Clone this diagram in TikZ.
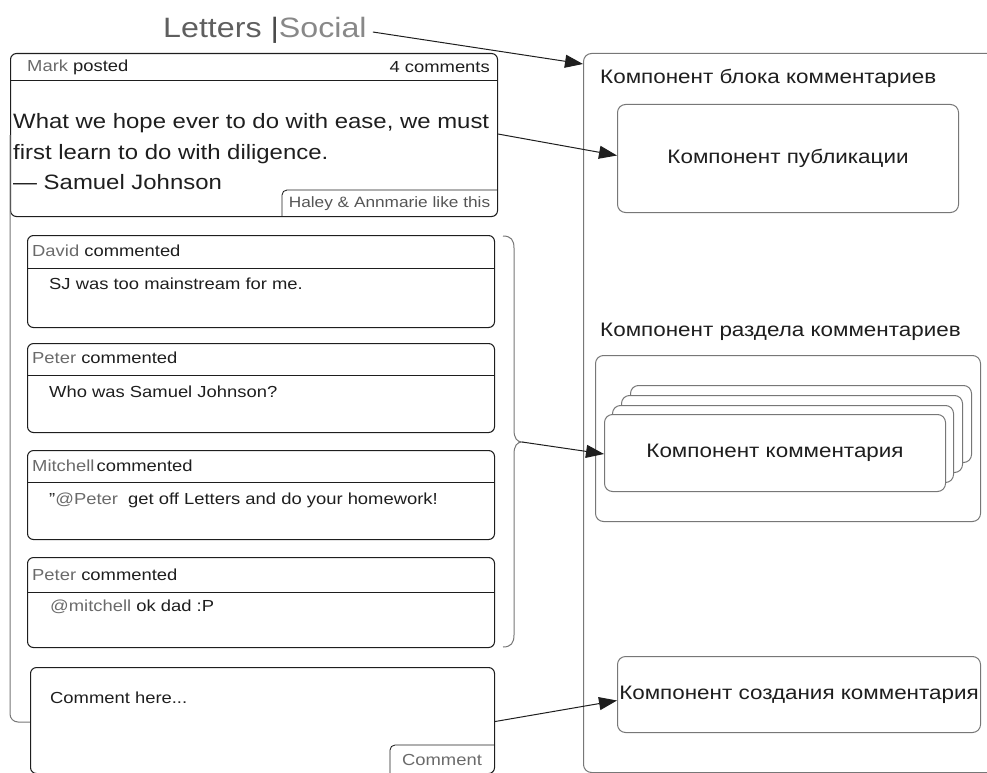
\documentclass[tikz,border=0pt]{standalone}
\usepackage{fontspec}
\setmainfont[FakeStretch=1.15]{Liberation Sans}
\usetikzlibrary{arrows.meta}
\definecolor{ink}{HTML}{1E1E1E}
\definecolor{muted}{HTML}{6A6A6A}
\definecolor{edge}{HTML}{777777}

\begin{document}
\begin{tikzpicture}[x=1pt,y=-1pt,
  card/.style={draw=ink, line width=1.05pt, rounded corners=6pt, inner sep=0pt, anchor=north west},
  panel/.style={draw=edge, line width=1pt, rounded corners=8pt, fill=white, inner sep=0pt, anchor=north west},
  rule/.style={draw=ink, line width=0.85pt},
  txt/.style={inner sep=0pt, text=ink},
  small/.style={txt, font=\fontsize{16}{19}\selectfont},
  label/.style={txt, font=\fontsize{19.5}{23}\selectfont},
  link/.style={draw=ink, line width=1pt, -{Triangle[length=18pt,width=13pt]}},
  frame/.style={draw=edge, line width=1pt}]
\useasboundingbox (0,0) rectangle (987,773);
\clip (0,0) rectangle (987,773);

% ---------- left: the Letters|Social mock-up ----------
\node[txt, font=\fontsize{28}{32}\selectfont, anchor=west] (title) at (163,30)
  {\textcolor{muted!90!black}{Letters }\textcolor{muted!70!black}{|}\textcolor{muted!80}{Social}};

% post card
\node[card, minimum width=487pt, minimum height=163pt] (post) at (10,53) {};
\draw[rule] (10.5,80) -- (496.5,80);
\node[small, anchor=west] (posthead) at (27,67) {\textcolor{muted}{Mark} posted};
\node[small, anchor=east] (postcount) at (490,67) {4 comments};
\node[txt, font=\fontsize{20.8}{30.5}\selectfont, align=left, anchor=west] (quote) at (13,152)
  {What we hope ever to do with ease, we must\\first learn to do with diligence.\\— Samuel Johnson};
\draw[rule, rounded corners=5pt] (282,216) -- (282,190) -- (497,190);
\node[txt, text=muted!80!black, font=\fontsize{15}{18}\selectfont] (likes) at (389.5,204) {Haley \& Annmarie like this};

% frame line running down the left side to the input box
\draw[frame, rounded corners=8pt] (post.west) -- (10,722) -- (30,722);

% comment cards
\node[card, minimum width=467pt, minimum height=92pt] (c1) at (27,235) {};
\draw[rule] (27.5,268) -- (493.5,268);
\node[small, anchor=west] (c1h) at (32,251) {\textcolor{muted}{David} commented};
\node[small, anchor=west] (c1b) at (49,284) {SJ was too mainstream for me.};

\node[card, minimum width=467pt, minimum height=89pt] (c2) at (27,343) {};
\draw[rule] (27.5,375) -- (493.5,375);
\node[small, anchor=west] (c2h) at (32,358) {\textcolor{muted}{Peter} commented};
\node[small, anchor=west] (c2b) at (49,392) {Who was Samuel Johnson?};

\node[card, minimum width=467pt, minimum height=89pt] (c3) at (27,450) {};
\draw[rule] (27.5,482) -- (493.5,482);
\node[small, anchor=west] (c3h) at (32,466) {\textcolor{muted}{Mitchell}\hspace{2pt}commented};
\node[small, anchor=west] (c3b) at (49,500) {\symbol{34}\textcolor{muted}{@Peter}\ \ get off Letters and do your homework!};

\node[card, minimum width=467pt, minimum height=90pt] (c4) at (27,557) {};
\draw[rule] (27.5,592) -- (493.5,592);
\node[small, anchor=west] (c4h) at (32,575) {\textcolor{muted}{Peter} commented};
\node[small, anchor=west] (c4b) at (50,607) {\textcolor{muted}{@mitchell} ok dad :P};

% brace grouping the comments
\coordinate (bracetip) at (522,442);
\draw[frame]
  (503,236) .. controls (511,236) and (514,240) .. (514,248) -- (514,430)
  .. controls (514,438) and (517,442) .. (bracetip)
  .. controls (517,442) and (514,446) .. (514,454) -- (514,635)
  .. controls (514,643) and (511,647) .. (503,647);

% comment input
\node[card, minimum width=464pt, minimum height=106pt] (input) at (30,667) {};
\node[small, anchor=west] (inputtext) at (50,698) {Comment here...};
\draw[rule, rounded corners=5pt] (390,775) -- (390,745) -- (494,745);
\node[txt, text=muted, font=\fontsize{16}{19}\selectfont] (send) at (442,760) {Comment};

% ---------- right: component tree ----------
\node[panel, minimum width=430pt, minimum height=719pt] (block) at (583,53) {};
\node[label, anchor=west] (blocklabel) at (600,78) {Компонент блока комментариев};

\node[panel, minimum width=341pt, minimum height=108pt] (pub) at (617,104) {};
\node[label] (publabel) at (pub.center) {Компонент публикации};

\node[label, anchor=west] (seclabel) at (600,332) {Компонент раздела комментариев};
\node[panel, minimum width=385pt, minimum height=166pt] (section) at (595,355) {};

\node[panel, minimum width=341pt, minimum height=77pt] (s4) at (630,385) {};
\node[panel, minimum width=341pt, minimum height=77pt] (s3) at (621,395) {};
\node[panel, minimum width=341pt, minimum height=77pt] (s2) at (612,405) {};
\node[panel, minimum width=341pt, minimum height=77pt] (s1) at (604,414) {};
\node[label] (s1label) at (s1.center) {Компонент комментария};

\node[panel, minimum width=363pt, minimum height=76pt] (create) at (617,656) {};
\node[label] (createlabel) at (create.center) {Компонент создания комментария};

% ---------- connectors ----------
\draw[link] ([xshift=6pt,yshift=-2pt]title.east) -- ([yshift=-11pt]block.north west);
\draw[link] ([yshift=1pt]post.east) -- ([yshift=3pt]pub.west);
\draw[link] (bracetip) -- ([yshift=-1pt]s1.west);
\draw[link] ([yshift=-1pt]input.east) -- ([yshift=-6pt]create.west);
\end{tikzpicture}
\end{document}
